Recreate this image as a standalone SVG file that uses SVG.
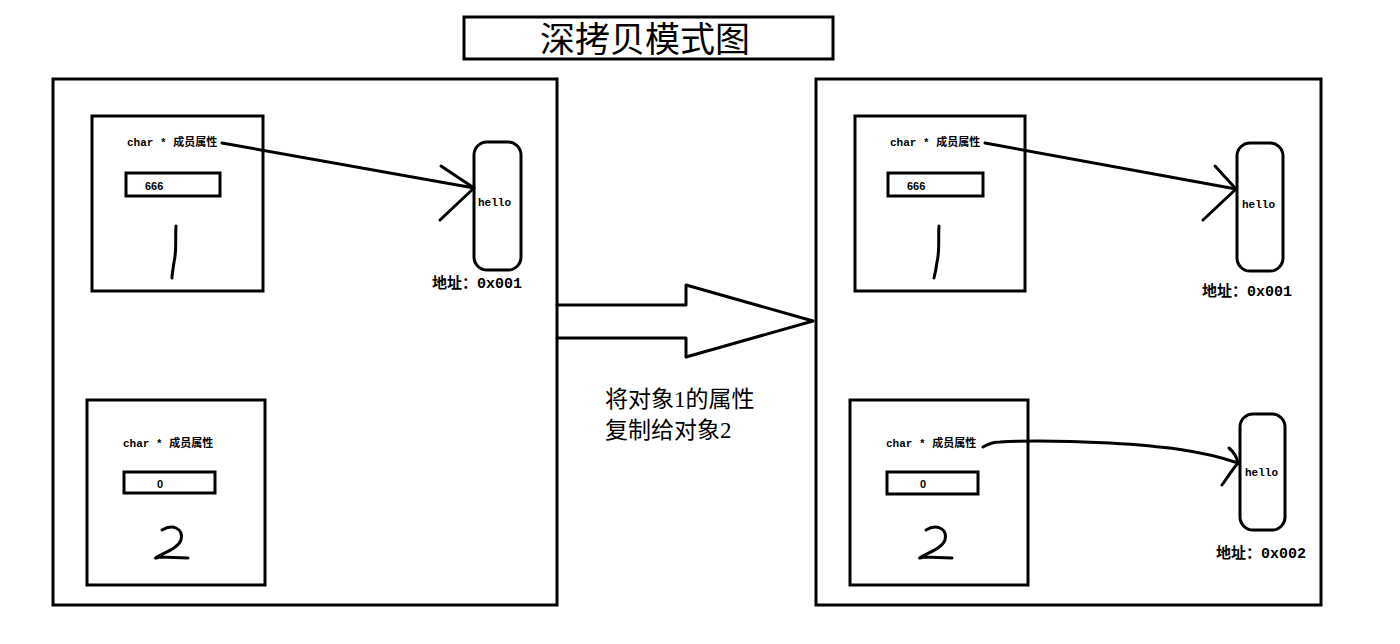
<svg xmlns="http://www.w3.org/2000/svg" width="1400" height="644" viewBox="0 0 1400 644">
<style>
.box{fill:none;stroke:#000;stroke-width:3}
.vbox{fill:#fff;stroke:#000;stroke-width:3}
.pill{fill:#fff;stroke:#000;stroke-width:3}
.ln{fill:none;stroke:#000;stroke-width:3;stroke-linecap:round;stroke-linejoin:round}
.hand{fill:none;stroke:#000;stroke-width:3;stroke-linecap:round;stroke-linejoin:round}
.lbl{font-family:"Liberation Mono","Noto Sans CJK SC",monospace;font-size:11px;font-weight:bold;fill:#000}
.val{font-family:"Liberation Sans","Noto Sans CJK SC",sans-serif;font-size:11px;font-weight:bold;fill:#000}
.addr{font-family:"Liberation Mono","Noto Sans CJK SC",monospace;font-size:15px;font-weight:bold;fill:#000}
.note{font-family:"Liberation Serif","Noto Sans CJK SC",serif;font-size:23px;fill:#000}
.title{font-family:"Noto Sans CJK SC",sans-serif;font-size:35px;fill:#000}
</style>
<rect width="1400" height="644" fill="#fff"/>
<g id="title">
<rect x="464" y="17" width="369" height="42" class="box"/>
<text x="645" y="52" text-anchor="middle" class="title">深拷贝模式图</text>
</g>
<g id="obj1">
<rect x="53" y="79" width="504" height="526" class="box"/>
</g>
<g id="obj2">
<rect x="816" y="79" width="505" height="526" class="box"/>
</g>
<g id="obj1-m1">
<rect x="92" y="116" width="171" height="175" class="box"/>
<text x="127" y="146" class="lbl">char * 成员属性</text>
<rect x="126" y="173" width="94" height="23" class="vbox"/>
<text x="145" y="190" class="val">666</text>
<path d="M176 226 C175 240 177 250 174 262 C173 270 172 274 172 278" class="hand"/>
</g>
<g id="obj1-m2">
<rect x="87" y="400" width="178" height="185" class="box"/>
<text x="123" y="447" class="lbl">char * 成员属性</text>
<rect x="124" y="472" width="91" height="21" class="vbox"/>
<text x="157" y="488" class="val">0</text>
<path d="M162 530 C172 524 184 528 181 540 C178 548 166 552 157 557 C154 559 156 558 160 557 L188 558" class="hand"/>
</g>
<g id="heap1">
<rect x="474" y="142" width="47" height="128" rx="13" class="pill"/>
<text x="478" y="206" class="lbl">hello</text>
<text x="432" y="288" class="addr">地址：0x001</text>
</g>
<g id="copy-arrow">
<path d="M557 305 L686 305 L686 285 L813 321 L686 357 L686 338 L557 338" class="ln" fill="#fff"/>
</g>
<g id="copy-note">
<text x="605" y="407" class="note">将对象1的属性</text>
<text x="605" y="438" class="note">复制给对象2</text>
</g>
<g id="obj2-m1">
<rect x="855" y="116" width="170" height="175" class="box"/>
<text x="890" y="146" class="lbl">char * 成员属性</text>
<rect x="888" y="173" width="95" height="23" class="vbox"/>
<text x="907" y="190" class="val">666</text>
<path d="M939 226 C938 240 940 250 937 262 C936 270 935 274 934 278" class="hand"/>
</g>
<g id="obj2-m2">
<rect x="850" y="400" width="178" height="185" class="box"/>
<text x="886" y="447" class="lbl">char * 成员属性</text>
<rect x="887" y="472" width="91" height="22" class="vbox"/>
<text x="920" y="488" class="val">0</text>
<path d="M926 530 C936 524 948 528 945 540 C942 548 930 552 921 557 C918 559 920 558 924 557 L952 558" class="hand"/>
</g>
<g id="heap1-copy">
<rect x="1237" y="143" width="46" height="128" rx="13" class="pill"/>
<text x="1242" y="208" class="lbl">hello</text>
<text x="1202" y="296" class="addr">地址：0x001</text>
</g>
<g id="heap2">
<rect x="1240" y="414" width="45" height="116" rx="13" class="pill"/>
<text x="1245" y="476" class="lbl">hello</text>
<text x="1216" y="558" class="addr">地址：0x002</text>
</g>
<g id="connectors">
<path d="M222 143 L474 188" class="ln"/>
<path d="M441 166 L474 188 L440 220" class="ln"/>
<path d="M985 143 L1236 189" class="ln"/>
<path d="M1215 166 L1236 189 L1203 220" class="ln"/>
<path d="M983 447 C988 444 992 442 1000 442 C1030 440 1070 441 1110 443 C1160 446 1200 450 1238 463" class="ln"/>
<path d="M1229 448 C1235 453 1237 458 1238 463 C1232 470 1227 478 1222 485" class="ln"/>
</g>
</svg>
